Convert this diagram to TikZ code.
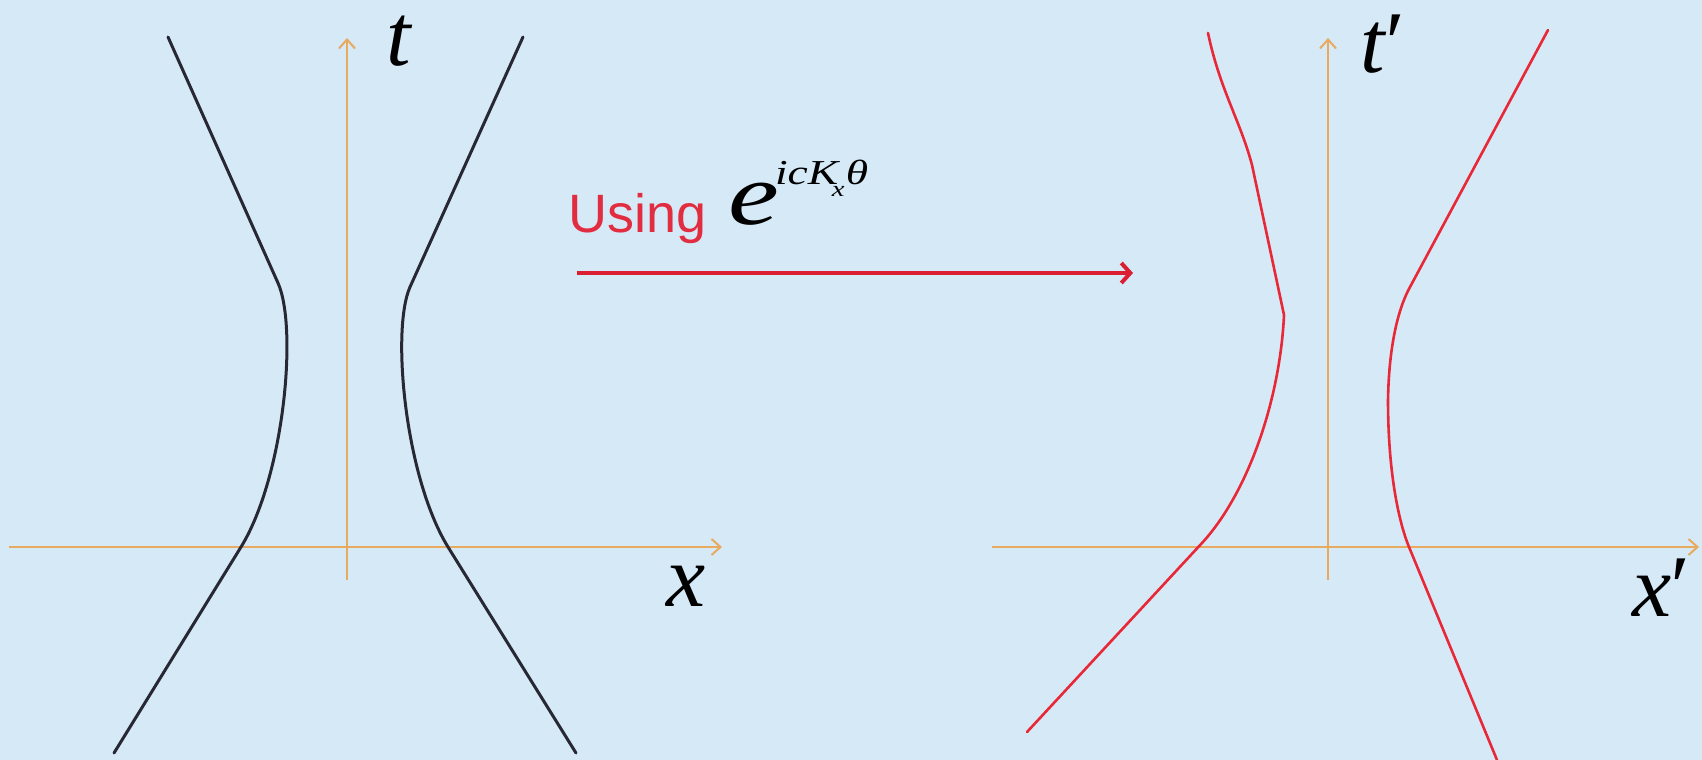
\documentclass[tikz,border=0pt]{standalone}
\usepackage{fontspec}
\setmainfont{Liberation Serif}
\setsansfont{Liberation Sans}
\usetikzlibrary{arrows.meta}
\definecolor{bg}{RGB}{214,233,247}
\definecolor{axisor}{RGB}{232,170,95}
\definecolor{curveblk}{RGB}{40,40,52}
\definecolor{curvered}{RGB}{232,40,55}
\definecolor{usered}{RGB}{226,44,64}
\definecolor{arrowred}{RGB}{220,30,50}
\begin{document}
\begin{tikzpicture}[x=1pt,y=-1pt,
  axisline/.style={draw=axisor, line width=2pt, -{Straight Barb[length=9pt,width=16pt,line width=2pt]}},
  blackline/.style={draw=curveblk, line width=3pt, line join=round, line cap=round},
  redline/.style={draw=curvered, line width=2.6pt, line join=round, line cap=round},
  maparrow/.style={draw=arrowred, line width=4.5pt, -{Straight Barb[length=9pt,width=20pt,line width=4pt]}},
  biglabel/.style={inner sep=0pt, font=\fontsize{88}{90}\selectfont\itshape}
]
\useasboundingbox (0,0) rectangle (1702,760);
\fill[bg] (0,0) rectangle (1702,760);

% left axes
\coordinate (lxs) at (9,547);
\coordinate (lxe) at (722,547);
\coordinate (lts) at (347,580);
\coordinate (lte) at (347,38);
\draw[axisline] (lxs) -- (lxe);
\draw[axisline] (lts) -- (lte);

% right axes
\coordinate (rxs) at (992,547);
\coordinate (rxe) at (1699,547);
\coordinate (rts) at (1328,580);
\coordinate (rte) at (1328,38);
\draw[axisline] (rxs) -- (rxe);
\draw[axisline] (rts) -- (rte);

% black curves
\draw[blackline] (168,37) -- (278,283) .. controls (298,328) and (284,477) .. (241,547) -- (114,753);
\draw[blackline] (523,37) -- (410,287) .. controls (391,330) and (405,477) .. (448,547) -- (576,753);

% red curves
\draw[redline] (1208,33) .. controls (1220,90) and (1240,120) .. (1252,165) -- (1284,315)
  .. controls (1280,400) and (1248,493) .. (1202,543) -- (1027,732);
\draw[redline] (1548,30) -- (1410,287) .. controls (1400,305) and (1389,340) .. (1388,400)
  .. controls (1388,470) and (1398,520) .. (1409,547) -- (1497,760);

% mapping arrow
\coordinate (ms) at (577,273);
\coordinate (me) at (1133,273);
\draw[maparrow] (ms) -- (me);

% labels
\node[biglabel, anchor=base] (tlab) at (399,66) {t};
\node[biglabel, anchor=base] (xlab) at (686,606) {x};
\node[biglabel, anchor=base west] (tplab) at (1360,72) {t\kern-4pt′};
\node[biglabel, anchor=base west] (xplab) at (1632,616) {x\kern-6pt′};

\node[inner sep=0pt, anchor=base west, text=usered, font=\fontsize{54}{60}\selectfont\sffamily] (using) at (568,232) {Using};
\node[inner sep=0pt, anchor=base west, font=\fontsize{88}{90}\selectfont\itshape] (expo) at (728,224)
  {\scalebox{1.3}[1]{e\kern-3pt\raisebox{40pt}{\fontsize{35}{40}\selectfont icK\kern-5pt\raisebox{-12pt}{\fontsize{22}{24}\selectfont x}\kern1pt θ}}};
\end{tikzpicture}
\end{document}
